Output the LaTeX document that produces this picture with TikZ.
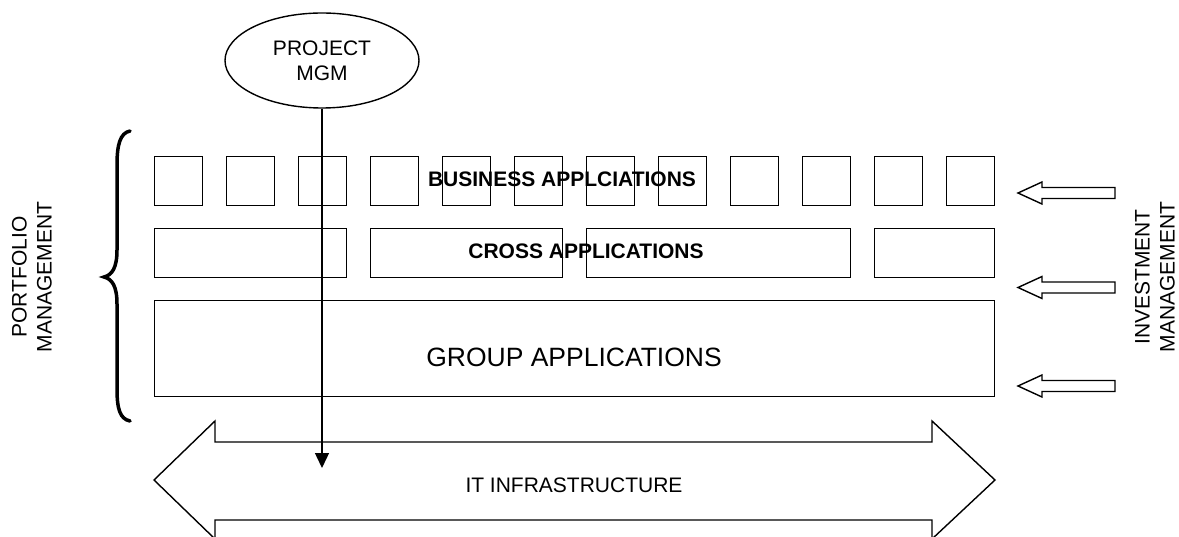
\documentclass[tikz,border=0pt]{standalone}
\usepackage{fontspec}
\setmainfont{Liberation Sans}
\usetikzlibrary{arrows.meta,shapes.geometric}

\begin{document}
\begin{tikzpicture}[x=1pt,y=-1pt,line width=1.4pt,
  box/.style={draw,rectangle,inner sep=0pt,anchor=north west},
  lbl/.style={font=\fontsize{21}{25}\selectfont,inner sep=0pt,align=center},
  boldlbl/.style={font=\fontsize{21}{25}\selectfont\bfseries,inner sep=0pt},
  hollowarrow/.style={draw,line width=1.4pt,line join=miter},
  brace/.style={draw,line width=3.5pt,line cap=round}]
\useasboundingbox (0,0) rectangle (1179,537);

% business applications: row of small squares
\foreach \i in {0,...,11}
  \node[box,minimum width=48pt,minimum height=49pt] (ba\i) at ({154+72*\i},156) {};

% cross applications
\node[box,minimum width=192pt,minimum height=49pt] (ca1) at (154,228) {};
\node[box,minimum width=192pt,minimum height=49pt] (ca2) at (370,228) {};
\node[box,minimum width=264pt,minimum height=49pt] (ca3) at (586,228) {};
\node[box,minimum width=120pt,minimum height=49pt] (ca4) at (874,228) {};

% group applications
\node[box,minimum width=840pt,minimum height=96pt] (ga) at (154,300) {};

% row labels
\node[boldlbl,anchor=base] (batext) at (562,187) {BUSINESS APPLCIATIONS};
\node[boldlbl,anchor=base] (catext) at (586,259) {CROSS APPLICATIONS};
\node[font=\fontsize{26.5}{30}\selectfont,inner sep=0pt,anchor=base] (gatext) at (574,367) {GROUP APPLICATIONS};

% IT infrastructure double arrow
\draw[hollowarrow] (154,480) -- (215,421) -- (215,442) -- (932,442) -- (932,421)
  -- (995,480) -- (932,539) -- (932,520) -- (215,520) -- (215,539) -- cycle;
\node[lbl,anchor=base] (it) at (574,493) {IT INFRASTRUCTURE};

% investment arrows on the right
\foreach \c [count=\k] in {193,287.5,386}
  \draw[hollowarrow] (1018,\c) -- (1042,\c-11) -- (1042,\c-5.5) -- (1115,\c-5.5)
    -- (1115,\c+5.5) -- (1042,\c+5.5) -- (1042,\c+11) -- cycle;

% portfolio brace
\draw[brace] (130,131) .. controls (120,133) and (117,145) .. (117,165) -- (117,250)
  .. controls (117,268) and (112,275) .. (104,277)
  .. controls (112,279) and (117,286) .. (117,304) -- (117,389)
  .. controls (117,409) and (120,419) .. (130,421);

% side labels
\node[lbl,rotate=90] (pf) at (32,277) {PORTFOLIO\\MANAGEMENT};
\node[lbl,rotate=90] (im) at (1155,277) {INVESTMENT\\MANAGEMENT};

% project management ellipse and its arrow
\node[draw,ellipse,minimum width=194pt,minimum height=95pt,lbl,fill=white] (pm) at (322,60.5) {PROJECT\\MGM};
\coordinate (tip) at (322,468);
\draw[-{Triangle[width=14pt,length=15pt]}] (pm.south) -- (tip);
\end{tikzpicture}
\end{document}
